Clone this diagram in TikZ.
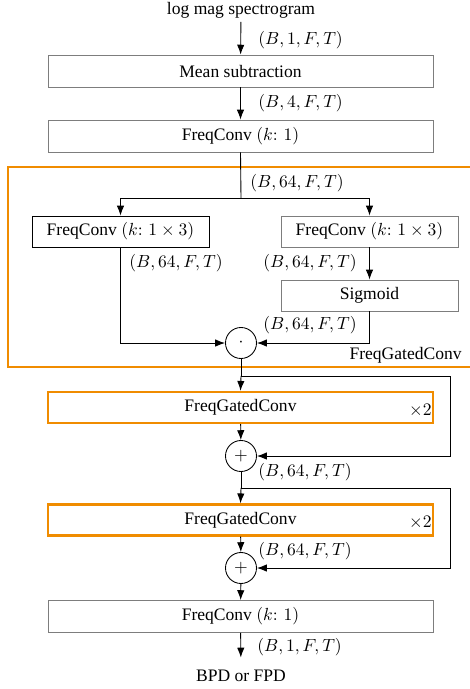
\documentclass[tikz,border=0pt]{standalone}
\usepackage{fontspec}
\setmainfont{Liberation Serif}
\usetikzlibrary{arrows.meta}
\definecolor{orng}{RGB}{240,140,0}
\definecolor{boxgray}{RGB}{125,125,125}
\newdimen\pxu \pxu=0.57pt
\begin{document}
\begin{tikzpicture}[x=0.57pt, y=-0.57pt,
  arr/.style={-{Latex[length=5.6pt,width=4.2pt]}, line width=0.5pt},
  ln/.style={line width=0.5pt},
  blk/.style={draw=boxgray, line width=0.5pt, minimum width=385\pxu, minimum height=32\pxu, inner sep=0pt},
  blkdark/.style={blk, draw=black},
  blkorange/.style={blk, draw=orng, line width=1.4pt, minimum height=31\pxu},
  half/.style={minimum width=177\pxu, minimum height=31\pxu},
  op/.style={circle, draw, line width=0.5pt, minimum size=31\pxu, inner sep=0pt},
  dimlabel/.style={anchor=west, inner sep=0pt},
  plain/.style={inner sep=0pt}]
\useasboundingbox (0,0) rectangle (470,689);
\clip (0,0) rectangle (470,689);

% enclosing frame of the gated convolution
\draw[orng, line width=1.4pt] (8,167) rectangle (476,367);
\node[anchor=east, plain] (fgclabel) at (462,355) {FreqGatedConv};

% blocks
\node[plain] (inp) at (241,10) {log mag spectrogram};
\node[blk] (ms) at (240.5,71) {Mean subtraction};
\node[blk] (fc1) at (240.5,136) {FreqConv $(k\colon\,1)$};
\node[blkdark, half] (gl) at (120.5,231.5) {FreqConv $(k\colon\,1\times 3)$};
\node[blk, half] (gr) at (369.5,231.5) {FreqConv $(k\colon\,1\times 3)$};
\node[blk, half] (sig) at (369.5,295.5) {Sigmoid};
\node[op] (mul) at (241,343) {$\cdot$};
\node[blkorange] (g1) at (240.5,407.5) {FreqGatedConv};
\node[anchor=east, plain] (rep1) at (432,411) {$\times2$};
\node[op] (add1) at (241,456) {$+$};
\node[blkorange] (g2) at (240.5,520) {FreqGatedConv};
\node[anchor=east, plain] (rep2) at (432,523) {$\times2$};
\node[op] (add2) at (241,568) {$+$};
\node[blk] (fc2) at (240.5,616.5) {FreqConv $(k\colon\,1)$};
\node[plain] (out) at (241,676) {BPD or FPD};

% tensor shapes
\node[dimlabel] (d1) at (258,40) {$(B,1,F,T)$};
\node[dimlabel] (d2) at (258,103) {$(B,4,F,T)$};
\node[dimlabel] (d3) at (250,183) {$(B,64,F,T)$};
\node[dimlabel] (d4) at (129,263) {$(B,64,F,T)$};
\node[dimlabel] (d5) at (263,263) {$(B,64,F,T)$};
\node[dimlabel] (d6) at (263,325) {$(B,64,F,T)$};
\node[dimlabel] (d7) at (258,472) {$(B,64,F,T)$};
\node[dimlabel] (d8) at (258,551) {$(B,64,F,T)$};
\node[dimlabel] (d9) at (257,647) {$(B,1,F,T)$};

% routing points
\coordinate (split) at (241,198);
\coordinate (tap1) at (241,376);
\coordinate (r1) at (450,376);
\coordinate (tap2) at (241,488);
\coordinate (r2) at (450,488);

% connectors
\draw[arr, shorten <=2pt] (inp) -- (ms);
\draw[arr] (ms) -- (fc1);
\draw[ln] (fc1.south) -- (split);
\draw[arr] (split) -| (gl.north);
\draw[arr] (split) -| (gr.north);
\draw[arr] (gr) -- (sig);
\draw[arr] (gl.south) |- (mul.west);
\draw[arr] (sig.south) |- (mul.east);
\draw[ln] (mul.south) -- (tap1);
\draw[arr] (tap1) -- (g1.north);
\draw[arr] (tap1) -- (r1) |- (add1.east);
\draw[arr] (g1) -- (add1);
\draw[ln] (add1.south) -- (tap2);
\draw[arr] (tap2) -- (g2.north);
\draw[arr] (tap2) -- (r2) |- (add2.east);
\draw[arr] (g2) -- (add2);
\draw[arr] (add2) -- (fc2);
\draw[arr, shorten >=7pt] (fc2) -- (out);
\end{tikzpicture}
\end{document}
